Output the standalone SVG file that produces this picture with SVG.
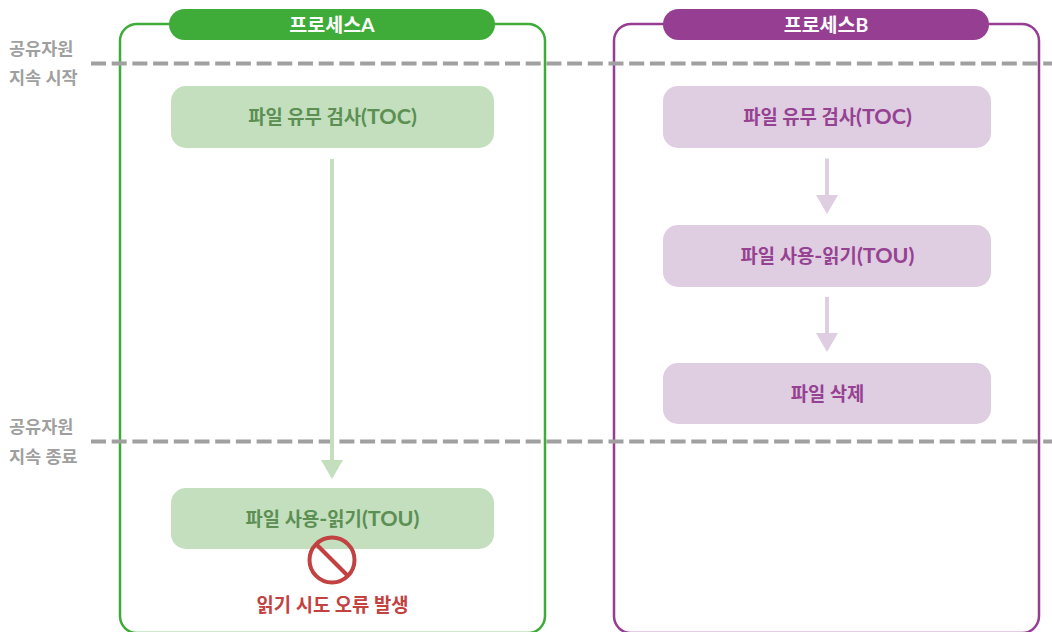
<svg xmlns="http://www.w3.org/2000/svg" width="1052" height="632" viewBox="0 0 1052 632">
<style>
text{font-family:"Lato","Noto Sans CJK KR","Noto Sans",sans-serif;font-weight:700;text-anchor:middle}
.side{font-size:17.500px;fill:#9f9f9f;text-anchor:start}
.hdr{font-size:19.500px;fill:#fff}
.lbl{font-size:18.800px}
.lat{font-size:21.500px}
.ga{fill:#c3dfbd}.gt{fill:#5b8f54}
.pa{fill:#dfcde1}.pt{fill:#964292}
.dash{stroke:#a0a0a0;stroke-width:4;stroke-dasharray:15 5.7;fill:none}
</style>
<rect width="1052" height="632" fill="#fff"/>
<g id="frames">
<rect x="120" y="24" width="425" height="609" rx="17" fill="none" stroke="#3fac39" stroke-width="2.500"/>
<rect x="614" y="24" width="425" height="609" rx="17" fill="none" stroke="#963e92" stroke-width="2.500"/>
</g>
<g id="guides">
<line class="dash" x1="91" y1="63.500" x2="1052" y2="63.500"/>
<line class="dash" x1="91" y1="441.500" x2="1052" y2="441.500"/>
<text class="side" x="9" y="55">공유자원</text>
<text class="side" x="9" y="84">지속 시작</text>
<text class="side" x="9" y="433">공유자원</text>
<text class="side" x="9" y="463">지속 종료</text>
</g>
<g id="connectors">
<path d="M330 159h4v302h-4z" class="ga"/><polygon points="321,460 343,460 332,479" class="ga"/>
<path d="M825 158.500h4v37h-4z" class="pa"/><polygon points="816,195 838,195 827,214" class="pa"/>
<path d="M825 297h4v36h-4z" class="pa"/><polygon points="816,333 838,333 827,352" class="pa"/>
</g>
<g id="header-a"><rect x="169" y="9" width="326" height="31" rx="15.500" fill="#3fac39"/><text class="hdr" x="332" y="32">프로세스A</text></g>
<g id="header-b"><rect x="663" y="9" width="326" height="31" rx="15.500" fill="#963e92"/><text class="hdr" x="826" y="32">프로세스B</text></g>
<g id="a-toc"><rect class="ga" x="171" y="86" width="323" height="62" rx="15"/><text class="lbl gt" x="332.500" y="124">파일 유무 검사<tspan class="lat">(TOC)</tspan></text></g>
<g id="a-tou"><rect class="ga" x="171" y="488" width="323" height="61" rx="15"/><text class="lbl gt" x="332.500" y="526">파일 사용<tspan class="lat">-</tspan>읽기<tspan class="lat">(TOU)</tspan></text></g>
<g id="b-toc"><rect class="pa" x="663" y="86" width="328" height="62" rx="15"/><text class="lbl pt" x="827.500" y="124">파일 유무 검사<tspan class="lat">(TOC)</tspan></text></g>
<g id="b-tou"><rect class="pa" x="663" y="225" width="328" height="62" rx="15"/><text class="lbl pt" x="827.500" y="263">파일 사용<tspan class="lat">-</tspan>읽기<tspan class="lat">(TOU)</tspan></text></g>
<g id="b-del"><rect class="pa" x="663" y="363" width="328" height="61" rx="15"/><text class="lbl pt" x="827.500" y="401">파일 삭제</text></g>
<g id="error">
<circle cx="332" cy="560" r="22.500" fill="none" stroke="#c24141" stroke-width="4"/>
<line x1="316" y1="544" x2="348" y2="576" stroke="#c24141" stroke-width="4"/>
<text x="332.500" y="612" class="lbl" fill="#c24141">읽기 시도 오류 발생</text>
</g>
</svg>
